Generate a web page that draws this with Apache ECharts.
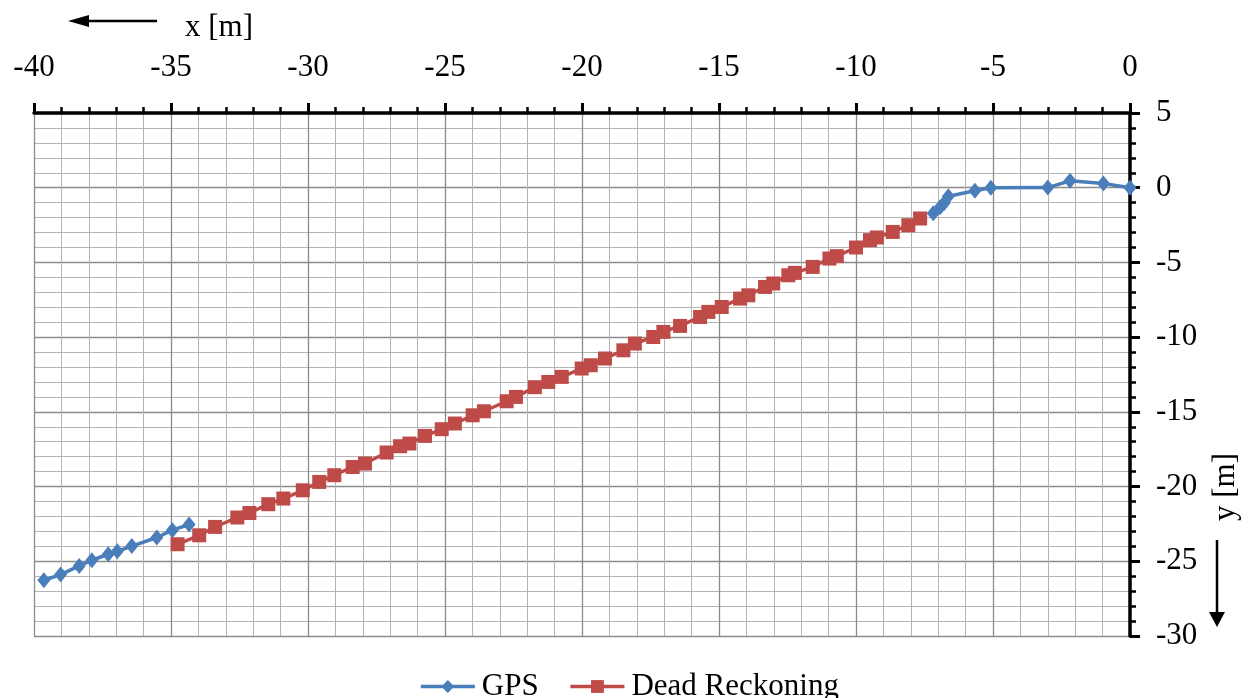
<!DOCTYPE html>
<html>
<head>
<meta charset="utf-8">
<script src="https://cdn.jsdelivr.net/npm/echarts@6/dist/echarts.min.js"></script>
<style>
html,body{margin:0;padding:0;background:#fff;}
#c{width:1258px;height:698px;}
</style>
</head>
<body>
<div id="c"></div>
<script>
// GPS track: [x, y] in metres
const gpsStart = [
  [-39.64, -26.27], [-39.03, -25.89], [-38.35, -25.31], [-37.89, -24.93],
  [-37.29, -24.53], [-36.96, -24.33], [-36.43, -23.98], [-35.52, -23.41],
  [-34.95, -22.92], [-34.34, -22.54]
];
const gpsEnd = [
  [-7.18, -1.71], [-6.93, -1.31], [-6.79, -1.04], [-6.63, -0.57],
  [-5.66, -0.20], [-5.08, -0.01], [-3.00, 0.01], [-2.19, 0.46],
  [-0.97, 0.28], [0, 0]
];
// Dead reckoning track
const deadReckoning = [
  [-34.76, -23.86], [-33.97, -23.26], [-33.39, -22.70], [-32.58, -22.07],
  [-32.14, -21.77], [-31.45, -21.18], [-30.90, -20.80], [-30.19, -20.25],
  [-29.59, -19.69], [-29.04, -19.24], [-28.37, -18.69], [-27.92, -18.46],
  [-27.13, -17.72], [-26.64, -17.30], [-26.30, -17.12], [-25.73, -16.61],
  [-25.12, -16.16], [-24.64, -15.78], [-23.99, -15.23], [-23.58, -14.96],
  [-22.75, -14.29], [-22.41, -14.00], [-21.72, -13.35], [-21.23, -13.00],
  [-20.74, -12.66], [-20.01, -12.10], [-19.68, -11.88], [-19.16, -11.43],
  [-18.49, -10.88], [-18.07, -10.43], [-17.40, -9.99], [-17.03, -9.65],
  [-16.42, -9.25], [-15.69, -8.65], [-15.39, -8.31], [-14.90, -7.98],
  [-14.23, -7.42], [-13.93, -7.20], [-13.32, -6.64], [-13.02, -6.41],
  [-12.47, -5.86], [-12.23, -5.70], [-11.58, -5.30], [-10.97, -4.74],
  [-10.70, -4.58], [-10.00, -4.00], [-9.49, -3.51], [-9.24, -3.33],
  [-8.66, -2.96], [-8.09, -2.51], [-7.66, -2.06]
];
const seriesNames = ['GPS', 'Dead Reckoning'];
const xAxisTitle = 'x [m]';
const yAxisTitle = 'y [m]';

const FONT = "'Liberation Serif','Times New Roman',serif";
const BLUE = '#4a7ebb';
const RED = '#be4b48';

const chart = echarts.init(document.getElementById('c'), null, {renderer: 'canvas'});

function axisCommon(extra) {
  return Object.assign({
    type: 'value',
    interval: 5,
    axisLine: {show: true, onZero: false, lineStyle: {color: '#000', width: 3.5}},
    axisTick: {show: true, inside: false, length: 10, lineStyle: {color: '#000', width: 3}},
    minorTick: {show: true, splitNumber: 5, length: 6, lineStyle: {color: '#000', width: 2.5}},
    splitLine: {show: true, lineStyle: {color: '#8c8c8c', width: 1.3}},
    minorSplitLine: {show: true, lineStyle: {color: '#b4b4b4', width: 1}}
  }, extra);
}

chart.setOption({
  backgroundColor: '#fff',
  animation: false,
  grid: {left: 34, right: 128, top: 113, bottom: 62, containLabel: false},
  xAxis: axisCommon({
    position: 'top', min: -40, max: 0,
    axisLabel: {color: '#000', fontFamily: FONT, fontSize: 31, margin: 30}
  }),
  yAxis: axisCommon({
    position: 'right', min: -30, max: 5,
    axisLabel: {color: '#000', fontFamily: FONT, fontSize: 31, margin: 26}
  }),
  legend: {
    left: 'center', top: 666,
    itemWidth: 54, itemHeight: 16, itemGap: 30,
    lineStyle: {width: 3.5},
    textStyle: {color: '#000', fontFamily: FONT, fontSize: 31, padding: [0, 0, 0, 2]},
    data: seriesNames
  },
  series: [
    {
      name: seriesNames[0], type: 'line', data: gpsStart, clip: false,
      symbol: 'diamond', symbolSize: [13, 16], showSymbol: true,
      itemStyle: {color: BLUE}, lineStyle: {color: BLUE, width: 3.5}
    },
    {
      name: seriesNames[0], type: 'line', data: gpsEnd, clip: false,
      symbol: 'diamond', symbolSize: [13, 16], showSymbol: true,
      itemStyle: {color: BLUE}, lineStyle: {color: BLUE, width: 3.5}
    },
    {
      name: seriesNames[1], type: 'line', data: deadReckoning, clip: false,
      symbol: 'rect', symbolSize: 14, showSymbol: true,
      itemStyle: {color: RED}, lineStyle: {color: RED, width: 3.5}
    }
  ],
  graphic: [
    {type: 'line', shape: {x1: 157, y1: 21, x2: 84, y2: 21}, style: {stroke: '#000', lineWidth: 2.5}},
    {type: 'polygon', shape: {points: [[68, 21], [89, 15], [89, 27]]}, style: {fill: '#000'}},
    {type: 'text', x: 185, y: 28, style: {text: xAxisTitle, font: '31px ' + FONT, fill: '#000', align: 'left', verticalAlign: 'middle'}},
    {type: 'text', x: 1226, y: 487, rotation: Math.PI / 2, style: {text: yAxisTitle, font: '31px ' + FONT, fill: '#000', align: 'center', verticalAlign: 'middle'}},
    {type: 'line', shape: {x1: 1217, y1: 540, x2: 1217, y2: 614}, style: {stroke: '#000', lineWidth: 2.5}},
    {type: 'polygon', shape: {points: [[1209, 612], [1225, 612], [1217, 627]]}, style: {fill: '#000'}}
  ]
});
</script>
</body>
</html>
